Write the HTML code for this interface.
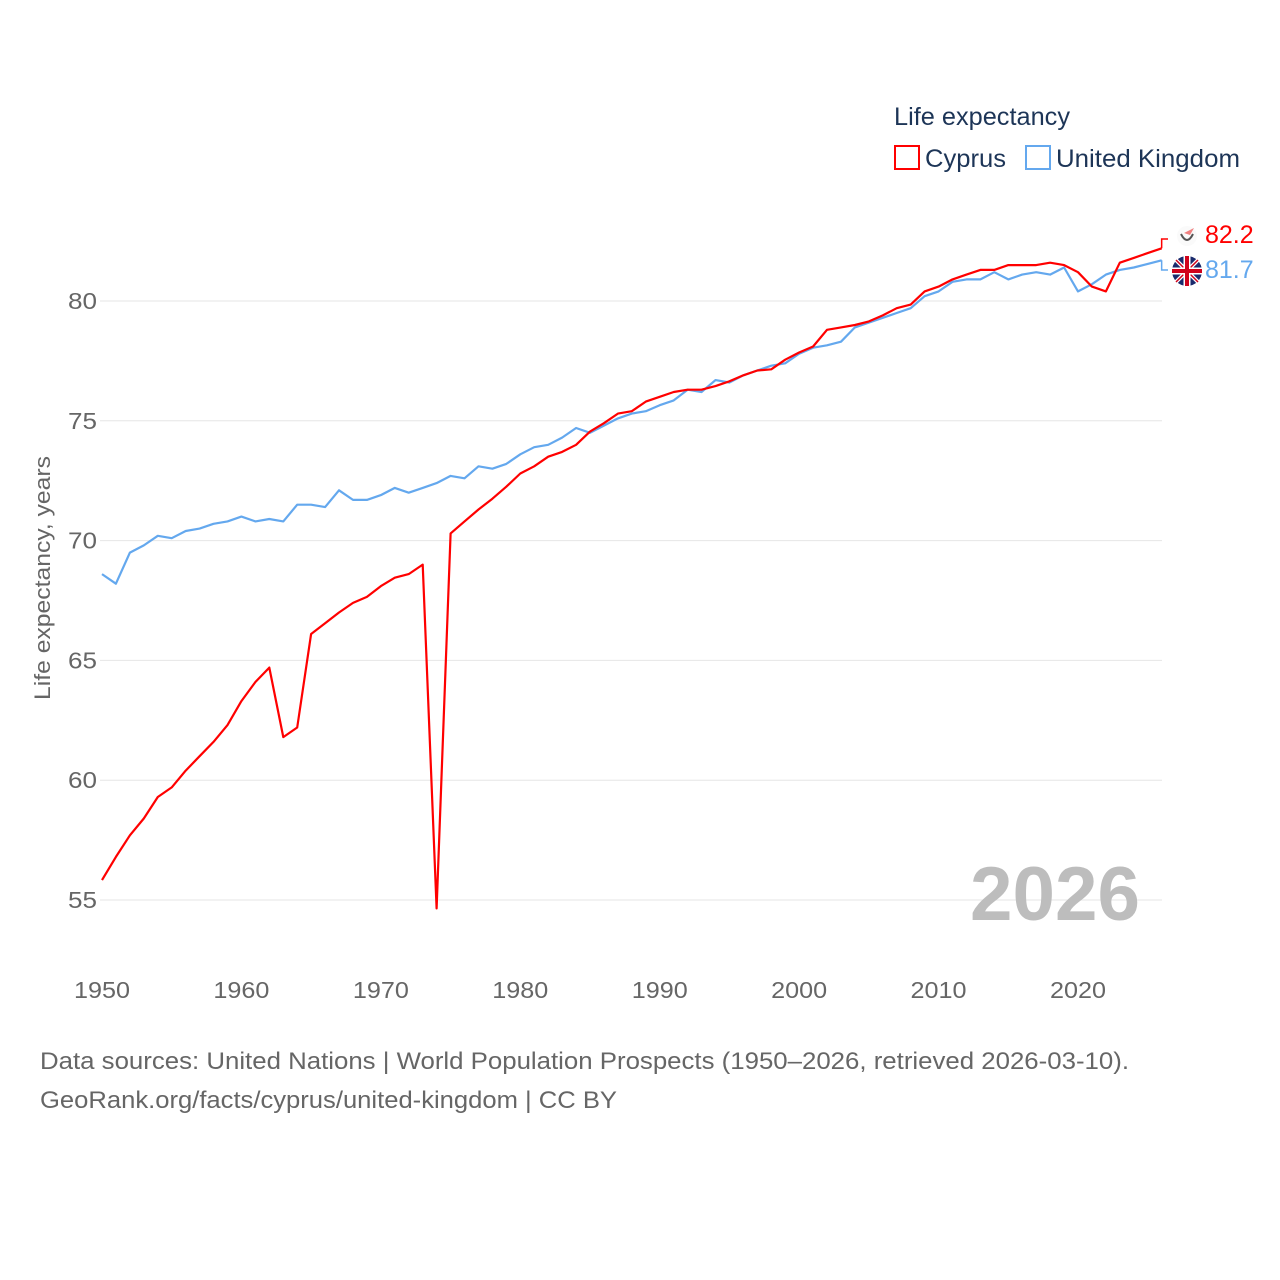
<!DOCTYPE html>
<html><head><meta charset="utf-8"><style>
body{margin:0;background:#fff;width:1280px;height:1280px;overflow:hidden;font-family:"Liberation Sans",sans-serif}
svg{display:block}
</style></head><body>
<svg id="chart" width="1280" height="1280" xmlns="http://www.w3.org/2000/svg">
<g id="grid"></g>
<g id="ylabels"></g>
<g id="xlabels"></g>
<text x="1140" y="920" text-anchor="end" font-size="76" font-weight="bold" fill="#bdbdbd" textLength="170" lengthAdjust="spacingAndGlyphs">2026</text>
<g id="lines"></g>
<text transform="translate(50,578) rotate(-90)" text-anchor="middle" font-size="22" fill="#666" textLength="244" lengthAdjust="spacingAndGlyphs">Life expectancy, years</text>
<g>
<text x="894" y="125" font-size="25" fill="#1d3557" textLength="176" lengthAdjust="spacingAndGlyphs">Life expectancy</text>
<g><rect x="895" y="146" width="24" height="23" fill="none" stroke="#ff0000" stroke-width="2"/><text x="925" y="167" font-size="25" fill="#1d3557" textLength="81" lengthAdjust="spacingAndGlyphs">Cyprus</text></g>
<g><rect x="1026" y="146" width="24" height="23" fill="none" stroke="#64a8ee" stroke-width="2"/><text x="1056" y="167" font-size="25" fill="#1d3557" textLength="184" lengthAdjust="spacingAndGlyphs">United Kingdom</text></g>
</g>
<g id="endlabels"></g>
<text x="40" y="1069" font-size="24" fill="#666" textLength="1089" lengthAdjust="spacingAndGlyphs">Data sources: United Nations | World Population Prospects (1950–2026, retrieved 2026-03-10).</text>
<text x="40" y="1108" font-size="24" fill="#666" textLength="577" lengthAdjust="spacingAndGlyphs">GeoRank.org/facts/cyprus/united-kingdom | CC BY</text>
</svg>
<script>
const startYear = 1950;
const cyprus = [55.83,56.8,57.7,58.4,59.3,59.7,60.4,61.0,61.6,62.3,63.3,64.1,64.7,61.8,62.2,66.1,66.55,67.0,67.4,67.65,68.1,68.45,68.6,69.0,54.65,70.3,70.8,71.3,71.75,72.25,72.8,73.1,73.5,73.7,74.0,74.55,74.9,75.3,75.4,75.8,76.0,76.2,76.3,76.3,76.45,76.65,76.9,77.1,77.15,77.55,77.85,78.1,78.8,78.9,79.0,79.15,79.4,79.7,79.85,80.4,80.6,80.9,81.1,81.3,81.3,81.5,81.5,81.5,81.6,81.5,81.2,80.6,80.4,81.6,81.8,82.0,82.2];
const uk = [68.6,68.2,69.5,69.8,70.2,70.1,70.4,70.5,70.7,70.8,71.0,70.8,70.9,70.8,71.5,71.5,71.4,72.1,71.7,71.7,71.9,72.2,72.0,72.2,72.4,72.7,72.6,73.1,73.0,73.2,73.6,73.9,74.0,74.3,74.7,74.5,74.8,75.1,75.3,75.4,75.65,75.85,76.3,76.2,76.7,76.6,76.9,77.1,77.3,77.4,77.8,78.05,78.15,78.3,78.9,79.1,79.3,79.5,79.7,80.2,80.4,80.8,80.9,80.9,81.2,80.9,81.1,81.2,81.1,81.4,80.4,80.7,81.1,81.3,81.4,81.55,81.7];
const yTicks = [55,60,65,70,75,80];
const xTicks = [1950,1960,1970,1980,1990,2000,2010,2020];

const NS="http://www.w3.org/2000/svg";
const x = yr => 102 + (yr-1950)*(976/70);
const y = v => 301 + (80-v)*(599/25);
function mk(tag,attrs,parent,txt){const e=document.createElementNS(NS,tag);for(const k in attrs)e.setAttribute(k,attrs[k]);if(txt!==undefined)e.textContent=txt;parent.appendChild(e);return e;}
const grid=document.getElementById('grid'),yl=document.getElementById('ylabels'),xl=document.getElementById('xlabels'),lines=document.getElementById('lines'),el=document.getElementById('endlabels');
yTicks.forEach(t=>{
  const g=mk('line',{x1:100,x2:1162,y1:y(t),y2:y(t),stroke:'#e6e6e6','stroke-width':1},grid);
  
  
  const l=mk('text',{x:97,y:y(t)+8,'text-anchor':'end','font-size':23,fill:'#666',textLength:29,lengthAdjust:'spacingAndGlyphs'},yl,String(t));
  
  
});
xTicks.forEach(t=>{
  const l=mk('text',{x:x(t)-28,y:998,'font-size':23,fill:'#666',textLength:56,lengthAdjust:'spacingAndGlyphs'},xl,String(t));
  
  
});
function path(arr){return arr.map((v,i)=>(i?'L':'M')+x(startYear+i).toFixed(1)+','+y(v).toFixed(1)).join(' ');}
const pu=mk('path',{d:path(uk),fill:'none',stroke:'#64a8ee','stroke-width':2.2,'stroke-linejoin':'round'},lines);


const pc=mk('path',{d:path(cyprus),fill:'none',stroke:'#ff0000','stroke-width':2.2,'stroke-linejoin':'round'},lines);


const lastC=cyprus[cyprus.length-1], lastU=uk[uk.length-1], xe=x(startYear+cyprus.length-1);
const c1=mk('path',{d:`M${xe},${y(lastC)} L${xe},239 L1168,239`,fill:'none',stroke:'#ff0000','stroke-width':1.5},el);


const u1=mk('path',{d:`M${xe},${y(lastU)} L${xe},270 L1168,270`,fill:'none',stroke:'#64a8ee','stroke-width':1.5},el);


const cf=mk('g',{},el);


mk('circle',{cx:1187,cy:236,r:10,fill:'#fafafa'},cf);
mk('path',{d:'M1181,234 Q1187,246 1193,234',fill:'none',stroke:'#555','stroke-width':2},cf);
mk('path',{d:'M1184,233 L1194,228 L1190,235 Z',fill:'#f08080'},cf);
const uf=mk('g',{},el);


mk('circle',{cx:1187,cy:271,r:15,fill:'#1a2a6c'},uf);
mk('path',{d:'M1176,260 L1198,282 M1198,260 L1176,282',stroke:'#fff','stroke-width':4},uf);
mk('path',{d:'M1176,260 L1198,282 M1198,260 L1176,282',stroke:'#d0021b','stroke-width':1.5},uf);
mk('path',{d:'M1187,256 V286 M1172,271 H1202',stroke:'#fff','stroke-width':7},uf);
mk('path',{d:'M1187,256 V286 M1172,271 H1202',stroke:'#d0021b','stroke-width':4},uf);
const tc=mk('text',{x:1205,y:243,'font-size':25,fill:'#ff0000'},el,lastC.toFixed(1));


const tu=mk('text',{x:1205,y:278,'font-size':25,fill:'#64a8ee'},el,lastU.toFixed(1));


</script>
</body></html>
